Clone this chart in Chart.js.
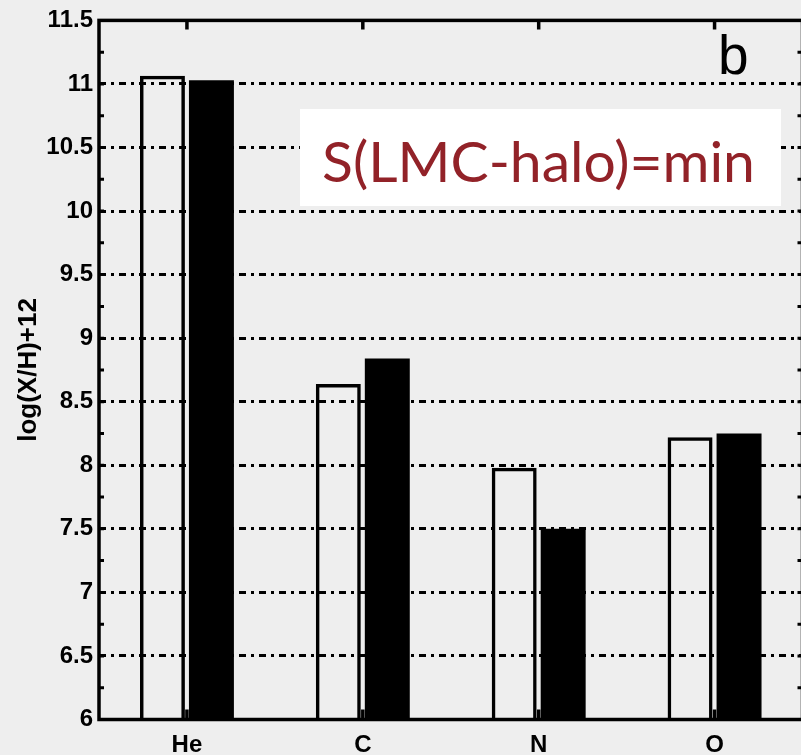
<!DOCTYPE html>
<html>
<head>
<meta charset="utf-8">
<script src="https://cdn.jsdelivr.net/npm/chart.js@4.4.0/dist/chart.umd.min.js"></script>
<style>
  html, body { margin: 0; padding: 0; background: #eeeeee; overflow: hidden; }
  #wrap { width: 804px; height: 755px; }
</style>
</head>
<body>
<div id="wrap"><canvas id="abundChart" width="804" height="755"></canvas></div>
<script>
// element abundances, log(X/H)+12
const elements = ['He', 'C', 'N', 'O'];
const openValues = [11.065, 8.64, 7.98, 8.22];
const filledValues = [11.03, 8.84, 7.5, 8.25];
const yMin = 6;
const yMax = 11.5;
const yStep = 0.5;
const yTitle = 'log(X/H)+12';
const panelLetter = 'b';
const boxText = 'S(LMC-halo)=min';

const fontFamily = "'Liberation Sans Narrow', 'Liberation Sans', Arial, sans-serif";
const tickFont = { family: fontFamily, size: 24, weight: 'bold' };
const titleFont = { family: fontFamily, size: 26, weight: 'bold' };

// box around the plot, minor ticks, panel letter and the note
const decorations = {
  id: 'decorations',
  afterDraw(chart) {
    const { ctx, chartArea: a, scales: { x, y } } = chart;
    ctx.save();
    ctx.strokeStyle = '#000';
    ctx.lineWidth = 3.5;
    ctx.strokeRect(a.left, a.top, a.right - a.left, a.bottom - a.top);

    ctx.lineWidth = 3;
    for (let v = yMin; v <= yMax; v += yStep / 2) {
      const py = y.getPixelForValue(v);
      ctx.beginPath();
      ctx.moveTo(a.left, py); ctx.lineTo(a.left + 5, py);
      ctx.moveTo(a.right, py); ctx.lineTo(a.right - 5, py);
      ctx.stroke();
    }
    ctx.lineWidth = 3.5;
    elements.forEach((_, i) => {
      const px = x.getPixelForValue(i);
      ctx.beginPath();
      ctx.moveTo(px, a.bottom); ctx.lineTo(px, a.bottom - 10);
      ctx.moveTo(px, a.top); ctx.lineTo(px, a.top + 9);
      ctx.stroke();
    });

    ctx.fillStyle = '#000';
    ctx.font = "55px 'Liberation Sans', Arial, sans-serif";
    ctx.textAlign = 'left';
    ctx.textBaseline = 'alphabetic';
    ctx.fillText(panelLetter, 718, 74);

    ctx.fillStyle = '#ffffff';
    ctx.fillRect(300, 109, 481, 97);
    let size = 60;
    ctx.font = `${size}px Lato, 'Noto Sans', sans-serif`;
    size = size * 433 / ctx.measureText(boxText).width;
    ctx.font = `${size}px Lato, 'Noto Sans', sans-serif`;
    ctx.fillStyle = '#922228';
    ctx.textAlign = 'center';
    ctx.fillText(boxText, 538.5, 182);
    ctx.restore();
  }
};

new Chart(document.getElementById('abundChart'), {
  type: 'bar',
  data: {
    labels: elements,
    datasets: [
      {
        data: openValues,
        backgroundColor: 'rgba(0,0,0,0)',
        borderColor: '#000',
        borderWidth: 3.5,
        categoryPercentage: 0.557,
        barPercentage: 0.918
      },
      {
        data: filledValues,
        backgroundColor: '#000',
        borderWidth: 0,
        categoryPercentage: 0.557,
        barPercentage: 0.918
      }
    ]
  },
  options: {
    responsive: false,
    animation: false,
    layout: { padding: { top: 19.5, right: 1.5, left: 0, bottom: 0 } },
    plugins: { legend: { display: false }, tooltip: { enabled: false } },
    scales: {
      x: {
        afterFit: s => { s.height = 35.5; },
        grid: { display: false, drawTicks: false },
        border: { display: false },
        ticks: { color: '#000', font: tickFont, padding: 11 }
      },
      y: {
        min: yMin,
        max: yMax,
        afterFit: s => { s.width = 99; },
        grid: { color: '#000', lineWidth: 3, drawTicks: false },
        border: { display: false, dash: [7, 5, 3, 5] },
        ticks: {
          stepSize: yStep,
          color: '#000',
          font: tickFont,
          padding: 6,
          callback: v => String(+v.toFixed(2))
        },
        title: { display: true, text: yTitle, color: '#000', font: titleFont, padding: { top: 13, bottom: 0 } }
      }
    }
  },
  plugins: [decorations]
});
</script>
</body>
</html>
